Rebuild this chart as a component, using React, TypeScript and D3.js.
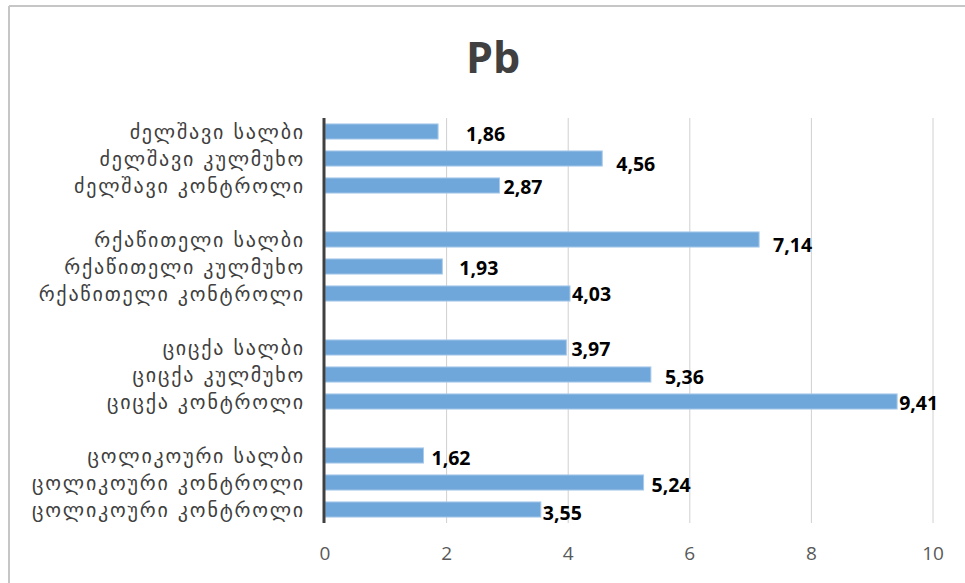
import React from "react";
import * as d3 from "d3";

const title = "Pb";
const categories = [
  "ძელშავი სალბი",
  "ძელშავი კულმუხო",
  "ძელშავი კონტროლი",
  "",
  "რქაწითელი სალბი",
  "რქაწითელი კულმუხო",
  "რქაწითელი კონტროლი",
  "",
  "ციცქა სალბი",
  "ციცქა კულმუხო",
  "ციცქა კონტროლი",
  "",
  "ცოლიკოური სალბი",
  "ცოლიკოური კონტროლი",
  "ცოლიკოური კონტროლი",
];
const values: (number | null)[] = [
  1.86, 4.56, 2.87, null, 7.14, 1.93, 4.03, null, 3.97, 5.36, 9.41, null, 1.62, 5.24, 3.55,
];
const ticks = [0, 2, 4, 6, 8, 10];
// manual label offsets (dx from bar end, dy from bar centre), as placed in the reference
const labelDx = [28, 14, 4, 0, 14, 17, 2, 0, 5, 14, 2, 0, 8, 8, 2];
const labelDy = [2, 5, 1, 0, 5, 1, 0, 0, 1, 2, 1, 0, 2, 2, 3];

const W = 965;
const H = 583;
const x0 = 325;
const x1 = 933;
const yTop = 118;
const yBot = 523;

export default function App() {
  const x = d3.scaleLinear().domain([0, 10]).range([x0, x1]);
  const y = d3
    .scaleBand<number>()
    .domain(d3.range(categories.length))
    .range([yTop, yBot])
    .paddingInner(0.44)
    .paddingOuter(0.22);
  const fmt = (v: number) => v.toFixed(2).replace(".", ",");
  return (
    <svg
      width={W}
      height={H}
      style={{ position: "absolute", left: 0, top: 0, background: "#fff" }}
    >
      <line x1={9} x2={W} y1={6} y2={6} stroke="#c6c6c6" strokeWidth={2} />
      <line x1={9} x2={9} y1={6} y2={H} stroke="#c6c6c6" strokeWidth={2} />
      <text
        x={493}
        y={73}
        textAnchor="middle"
        fontFamily="'Open Sans', sans-serif"
        fontWeight={700}
        fontSize={43}
        fill="#404040"
      >
        {title}
      </text>
      {ticks.map((t) => (
        <g key={t}>
          {t > 0 && (
            <line x1={x(t)} x2={x(t)} y1={yTop} y2={yBot} stroke="#d0d0d0" strokeWidth={1} />
          )}
          <text
            x={x(t)}
            y={560}
            textAnchor="middle"
            fontFamily="'Open Sans', sans-serif"
            fontSize={19}
            fill="#595959"
          >
            {t}
          </text>
        </g>
      ))}
      {values.map((v, i) =>
        v == null ? null : (
          <g key={i}>
            <rect
              x={x(0)}
              y={y(i)!}
              width={x(v) - x(0)}
              height={y.bandwidth()}
              fill="#6fa7da"
              stroke="#a9cbeb"
              strokeWidth={1}
            />
            <text
              x={x(v) + labelDx[i]}
              y={y(i)! + y.bandwidth() / 2 + labelDy[i]}
              dominantBaseline="central"
              fontFamily="'Open Sans', sans-serif"
              fontWeight={700}
              fontSize={19.5}
              fill="#000"
            >
              {fmt(v)}
            </text>
          </g>
        )
      )}
      {categories.map((c, i) =>
        c ? (
          <text
            key={i}
            x={305}
            y={y(i)! + y.bandwidth() / 2}
            dominantBaseline="central"
            textAnchor="end"
            fontFamily="'DejaVu Sans', sans-serif"
            fontSize={20}
            letterSpacing={1.8}
            fill="#404040"
          >
            {c}
          </text>
        ) : null
      )}
      <line x1={x(0) - 1} x2={x(0) - 1} y1={yTop} y2={yBot} stroke="#404040" strokeWidth={3} />
    </svg>
  );
}
